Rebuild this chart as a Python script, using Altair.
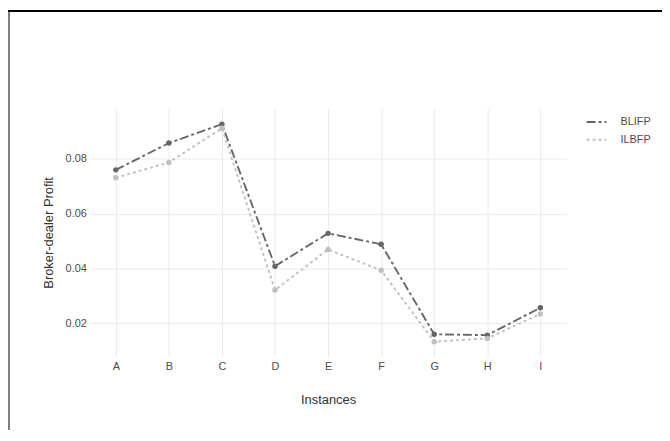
import altair as alt
import pandas as pd

instances = ["A", "B", "C", "D", "E", "F", "G", "H", "I"]
blifp = [0.0760, 0.0858, 0.0927, 0.0408, 0.0528, 0.0488, 0.0159, 0.0156, 0.0256]
ilbfp = [0.0731, 0.0787, 0.0912, 0.0321, 0.0469, 0.0393, 0.0132, 0.0144, 0.0233]
series = ["BLIFP", "ILBFP"]
y_ticks = [0.02, 0.04, 0.06, 0.08]

rows = []
for name, vals in zip(series, [blifp, ilbfp]):
    for inst, v in zip(instances, vals):
        rows.append({"Instances": inst, "Profit": v, "Series": name})
df = pd.DataFrame(rows)

font = "Liberation Sans"
colors = ["#666666", "#c0c0c0"]
dashes = [[9, 3, 3, 3], [3, 3]]

x = alt.X("Instances:N", sort=instances,
          scale=alt.Scale(type="point", padding=0.5),
          axis=alt.Axis(title="Instances", labelAngle=0, labelPadding=4,
                        titlePadding=22))
y = alt.Y("Profit:Q", scale=alt.Scale(domain=[0.0077, 0.0986], nice=False, zero=False),
          axis=alt.Axis(title="Broker-dealer Profit", values=y_ticks, format=".2f",
                        labelPadding=3, titlePadding=10))
color = alt.Color("Series:N", scale=alt.Scale(domain=series, range=colors),
                  legend=alt.Legend(title=None, orient="none", legendX=501, legendY=3,
                                    symbolType="stroke", symbolSize=400,
                                    symbolStrokeWidth=2, labelOffset=13,
                                    rowPadding=2, labelFontSize=11,
                                    labelColor="#4d4d4d", labelFont=font))
dash = alt.StrokeDash("Series:N", scale=alt.Scale(domain=series, range=dashes), legend=None)

lines = alt.Chart(df).mark_line(strokeWidth=1.9).encode(x=x, y=y, color=color, strokeDash=dash)
points = alt.Chart(df).mark_point(filled=True, size=30, opacity=1).encode(
    x=x, y=y, color=alt.Color("Series:N", scale=alt.Scale(domain=series, range=colors), legend=None))

frame_left = alt.Chart(pd.DataFrame({"k": [0]})).mark_rule(color="#808080", strokeWidth=2).encode(
    x=alt.value(-81), y=alt.value(-99), y2=alt.value(325))
frame_top = alt.Chart(pd.DataFrame({"k": [0]})).mark_rule(color="#000000", strokeWidth=2).encode(
    x=alt.value(-82), x2=alt.value(578), y=alt.value(-98))

chart = alt.layer(lines, points, frame_left, frame_top).properties(
    width=482, height=251,
    autosize=alt.AutoSizeParams(type="none"),
    padding={"left": 82, "top": 99, "right": 96, "bottom": 74},
).configure_view(stroke=None).configure_axis(
    grid=True, gridColor="#ebebeb", gridWidth=1, domain=False, ticks=False,
    labelFont=font, labelFontSize=11, labelColor="#4d4d4d",
    titleFont=font, titleFontSize=13, titleColor="#333333", titleFontWeight="normal",
)

chart.save("out.html", embed_options={"renderer": "svg", "actions": False})
